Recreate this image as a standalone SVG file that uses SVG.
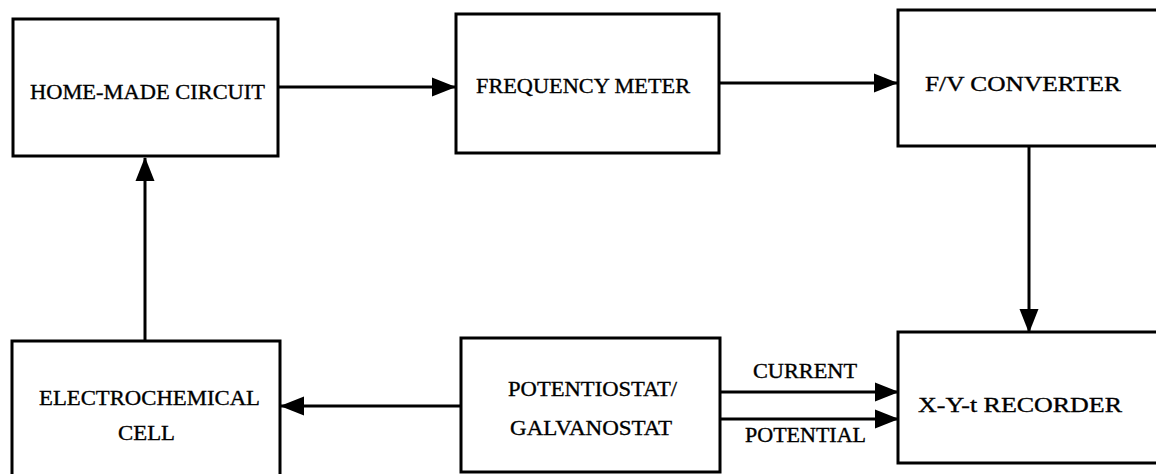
<svg xmlns="http://www.w3.org/2000/svg" width="1156" height="474" viewBox="0 0 1156 474">
  <style>
    .box { fill: none; stroke: #000; stroke-width: 3; }
    .wire { fill: none; stroke: #000; stroke-width: 3; }
    .lbl { font-family: "Liberation Serif", "Times New Roman", serif; font-size: 22px; fill: #000; stroke: #000; stroke-width: 0.35; }
    .sig { font-family: "Liberation Serif", "Times New Roman", serif; font-size: 20px; fill: #000; stroke: #000; stroke-width: 0.35; }
  </style>
  <defs>
    <marker id="head" markerUnits="userSpaceOnUse" markerWidth="24" markerHeight="22" viewBox="0 0 24 22" refX="23" refY="11" orient="auto">
      <path d="M0,1.5 L24,11 L0,20.5 Z" fill="#000"/>
    </marker>
  </defs>
  <rect width="1156" height="474" fill="#fff"/>

  <!-- signal paths -->
  <g id="connectors">
    <line class="wire" x1="279" y1="87" x2="455" y2="87" marker-end="url(#head)"/>
    <line class="wire" x1="720" y1="83" x2="897" y2="83" marker-end="url(#head)"/>
    <line class="wire" x1="1029" y1="147" x2="1029" y2="332" marker-end="url(#head)"/>
    <line class="wire" x1="145" y1="341" x2="145" y2="158" marker-end="url(#head)"/>
    <line class="wire" x1="461" y1="406" x2="281" y2="406" marker-end="url(#head)"/>
    <line class="wire" x1="720" y1="392" x2="898" y2="392" marker-end="url(#head)"/>
    <line class="wire" x1="720" y1="419" x2="898" y2="419" marker-end="url(#head)"/>
    <text class="sig" x="753" y="378" textLength="104" lengthAdjust="spacingAndGlyphs">CURRENT</text>
    <text class="sig" x="745" y="442" textLength="121" lengthAdjust="spacingAndGlyphs">POTENTIAL</text>
  </g>

  <g id="home-made-circuit">
    <rect class="box" x="13" y="19" width="265" height="137"/>
    <text class="lbl" x="30" y="99" textLength="235" lengthAdjust="spacingAndGlyphs">HOME-MADE CIRCUIT</text>
  </g>

  <g id="frequency-meter">
    <rect class="box" x="456" y="14" width="263" height="139"/>
    <text class="lbl" x="476" y="93" textLength="214" lengthAdjust="spacingAndGlyphs">FREQUENCY METER</text>
  </g>

  <g id="fv-converter">
    <path class="box" d="M1160,10 H898 V146 H1160"/>
    <text class="lbl" x="925" y="91" textLength="196" lengthAdjust="spacingAndGlyphs">F/V CONVERTER</text>
  </g>

  <g id="electrochemical-cell">
    <path class="box" d="M12,480 V341 H280 V480"/>
    <text class="lbl" x="39" y="405" textLength="221" lengthAdjust="spacingAndGlyphs">ELECTROCHEMICAL</text>
    <text class="lbl" x="118" y="440" textLength="57" lengthAdjust="spacingAndGlyphs">CELL</text>
  </g>

  <g id="potentiostat-galvanostat">
    <rect class="box" x="461" y="338" width="259" height="134"/>
    <text class="lbl" x="508" y="396" textLength="169" lengthAdjust="spacingAndGlyphs">POTENTIOSTAT/</text>
    <text class="lbl" x="510" y="435" textLength="162" lengthAdjust="spacingAndGlyphs">GALVANOSTAT</text>
  </g>

  <g id="xyt-recorder">
    <path class="box" d="M1160,332 H898 V463 H1160"/>
    <text class="lbl" x="918" y="412" textLength="204" lengthAdjust="spacingAndGlyphs">X-Y-t RECORDER</text>
  </g>
</svg>
